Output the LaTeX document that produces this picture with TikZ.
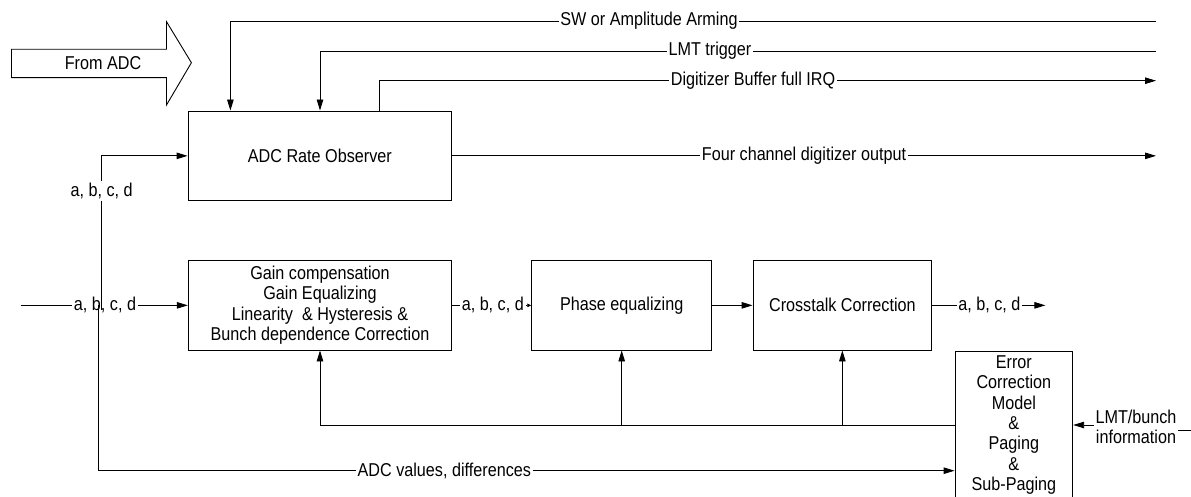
\documentclass[tikz,border=0pt]{standalone}
\usepackage{fontspec}
\setmainfont[FakeStretch=0.87]{Liberation Sans}
\usetikzlibrary{arrows.meta}
\begin{document}
\begin{tikzpicture}[x=1pt,y=-1pt,
  every node/.style={font=\fontsize{18.6}{20.4}\selectfont},
  blk/.style={draw,line width=0.9pt,inner sep=0pt,align=center},
  lbl/.style={inner sep=1.5pt},
  conn/.style={line width=0.9pt},
  arr/.style={conn,-{Triangle[length=11pt,width=6.5pt]}},
  sarr/.style={conn,-{Triangle[length=4pt,width=3.5pt]}}]
\useasboundingbox (0,0) rectangle (1191,497);

% blocks
\node[blk,minimum width=263.7pt,minimum height=89.7pt] (obs) at (319.85,155.85) {ADC Rate Observer};
\node[blk,minimum width=263.4pt,minimum height=89.3pt] (gain) at (320,305.35) {Gain compensation\\Gain Equalizing\\Linearity\ \ \& Hysteresis \&\\Bunch dependence Correction};
\node[blk,minimum width=180pt,minimum height=89.3pt] (phase) at (621.7,305.35) {Phase equalizing};
\node[blk,minimum width=178.7pt,minimum height=89.3pt] (xtalk) at (842.35,305.35) {Crosstalk Correction};
\node[blk,minimum width=117.7pt,minimum height=148pt] (err) at (1013.85,425) {Error\\Correction\\Model\\\&\\Paging\\\&\\Sub-Paging};

% big arrow From ADC
\draw[line width=0.9pt] (11.5,49.3) -- (166.5,49.3) -- (166.5,21.7) -- (191.4,62.7) -- (166.5,105) -- (166.5,77.7) -- (11.5,77.7) -- cycle;
\node (from) at (103,62.7) {From ADC};

% top signals
\node[lbl] (sw) at (649,21) {SW or Amplitude Arming};
\coordinate (swR) at (1156,21);
\coordinate (swC) at (230.4,21);
\draw[conn] (swR) -- (sw.east);
\draw[arr] (sw.west) -- (swC) -- (swC |- obs.north);

\node[lbl] (lmt) at (710,51) {LMT trigger};
\coordinate (lmtR) at (1156,51);
\coordinate (lmtC) at (320,51);
\draw[conn] (lmtR) -- (lmt.east);
\draw[arr] (lmt.west) -- (lmtC) -- (lmtC |- obs.north);

\node[lbl] (dig) at (753,80.7) {Digitizer Buffer full IRQ};
\coordinate (digR) at (1156,80.7);
\coordinate (digC) at (379.6,80.7);
\draw[conn] (digC |- obs.north) -- (digC) -- (dig.west);
\draw[arr] (dig.east) -- (digR);

\node[lbl] (four) at (804,155.85) {Four channel digitizer output};
\coordinate (fourR) at (1156,155.85);
\draw[conn] (obs.east) -- (four.west);
\draw[arr] (four.east) -- (fourR);

% inputs
\node[lbl] (in1) at (101.7,191) {a, b, c, d};
\coordinate (in1C) at (101.7,155.85);
\coordinate (in1B) at (101.7,310);
\draw[arr] (in1.north) -- (in1C) -- (obs.west);
\draw[conn] (in1.south) -- (in1B);

\node[lbl] (in2) at (105,305.35) {a, b, c, d};
\coordinate (in2L) at (20.7,305.35);
\draw[conn] (in2L) -- (in2.west);
\draw[arr] (in2.east) -- (gain.west);

% ADC values
\node[lbl] (adcv) at (444.3,470.7) {ADC values, differences};
\coordinate (adcC) at (98.3,305);
\draw[conn] (adcC) -- (adcC |- adcv) -- (adcv.west);
\draw[arr] (adcv.east) -- (adcv.east -| err.west);

% processing chain
\node[lbl] (m1) at (492.8,305.35) {a, b, c, d};
\draw[conn] (gain.east) -- (m1.west);
\draw[sarr] (m1.east) -- (phase.west);
\draw[arr] (phase.east) -- (xtalk.west);
\node[lbl] (o1) at (989.3,305.35) {a, b, c, d};
\coordinate (o1R) at (1045.4,305.35);
\draw[conn] (xtalk.east) -- (o1.west);
\draw[arr] (o1.east) -- (o1R);

% feedback
\draw[arr] (err.west) -- (gain.south |- err.west) -- (gain.south);
\draw[arr] (phase.south |- err.west) -- (phase.south);
\draw[arr] (xtalk.south |- err.west) -- (xtalk.south);

% LMT/bunch
\node[lbl,align=center] (lb) at (1136,426.7) {LMT/bunch\\information};
\coordinate (lbR) at (1191,430);
\draw[arr] (lb.west |- err.east) -- (err.east);
\draw[conn] (lbR) -- (lbR -| lb.east);
\end{tikzpicture}
\end{document}
